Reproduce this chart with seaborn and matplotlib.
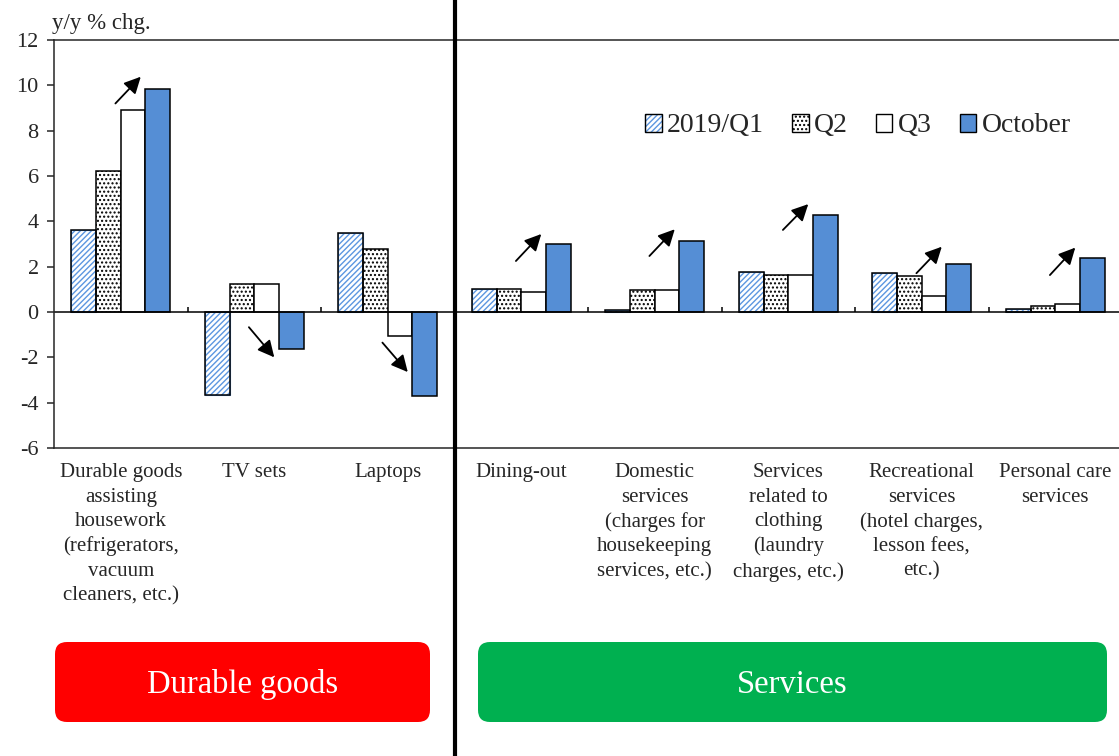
import numpy as np
import pandas as pd
import matplotlib.pyplot as plt
import seaborn as sns
from matplotlib.patches import Rectangle, FancyBboxPatch, Patch
from matplotlib.lines import Line2D
from matplotlib.transforms import blended_transform_factory

# Data (y/y % chg.)
categories = [
    "Durable goods\nassisting\nhousework\n(refrigerators,\nvacuum\ncleaners, etc.)",
    "TV sets",
    "Laptops",
    "Dining-out",
    "Domestic\nservices\n(charges for\nhousekeeping\nservices, etc.)",
    "Services\nrelated to\nclothing\n(laundry\ncharges, etc.)",
    "Recreational\nservices\n(hotel charges,\nlesson fees,\netc.)",
    "Personal care\nservices",
]
periods = ["2019/Q1", "Q2", "Q3", "October"]
q1 = [3.60, -3.65, 3.47, 1.03, 0.07, 1.78, 1.71, 0.15]
q2 = [6.24, 1.24, 2.80, 1.03, 0.96, 1.65, 1.58, 0.28]
q3 = [8.89, 1.24, -1.08, 0.90, 0.96, 1.65, 0.71, 0.35]
october = [9.84, -1.62, -3.72, 2.98, 3.14, 4.28, 2.11, 2.39]

# arrows: start / end level for each category
arrow_from = [9.2, -0.67, -1.35, 2.25, 2.47, 3.62, 1.71, 1.63]
arrow_to = [10.38, -2.0, -2.65, 3.44, 3.65, 4.76, 2.88, 2.84]

df = pd.DataFrame({
    "category": np.tile(categories, len(periods)),
    "period": np.repeat(periods, len(categories)),
    "value": np.concatenate([q1, q2, q3, october]),
})

sns.set_style("ticks")
plt.rcParams["font.family"] = ["Liberation Serif", "DejaVu Serif"]
plt.rcParams["hatch.linewidth"] = 1.0
plt.rcParams["axes.unicode_minus"] = False

blue = "#558ED5"
hatch_blue = "#5C96E0"
palette = {"2019/Q1": "white", "Q2": "white", "Q3": "white", "October": blue}

fig = plt.figure(figsize=(11.19, 7.56), dpi=100)
ax = fig.add_axes([54 / 1119, 1 - 448 / 756, 1068 / 1119, 408 / 756])

sns.barplot(data=df, x="category", y="value", hue="period", order=categories,
            hue_order=periods, palette=palette, saturation=1, width=0.74,
            edgecolor="black", linewidth=1.1, legend=False, ax=ax)

# Q1: blue diagonal hatch with black outline
for p in ax.containers[0].patches:
    p.set_hatch("//////")
    p.set_edgecolor(hatch_blue)
    p.set_linewidth(0.8)
    ax.add_patch(Rectangle(p.get_xy(), p.get_width(), p.get_height(),
                           fill=False, edgecolor="black", linewidth=1.1))
# Q2: dotted
for p in ax.containers[1].patches:
    p.set_hatch("....")

ax.set_xlim(-0.5, len(categories) - 0.5)
ax.set_ylim(-6, 12)
ax.set_yticks(np.arange(-6, 13, 2))
ax.set_xlabel("")
ax.set_ylabel("")
ax.tick_params(axis="y", labelsize=16, length=5, width=1.1, pad=6)
ax.tick_params(axis="x", labelsize=15, length=0, pad=11)
for lab in ax.get_xticklabels():
    lab.set_linespacing(1.38)
for s in ax.spines.values():
    s.set_linewidth(1.1)

# zero line with small separators
ax.axhline(0, color="black", lw=1.1, zorder=1)
xs = np.arange(len(categories))
ax.vlines(xs[:-1] + 0.5, 0, 0.2, color="black", lw=1.1)

# arrows
for i, (y0, y1) in enumerate(zip(arrow_from, arrow_to)):
    ax.annotate("", xy=(xs[i] + 0.15, y1), xytext=(xs[i] - 0.04, y0),
                arrowprops=dict(arrowstyle="-|>", color="black", lw=1.3,
                                mutation_scale=25, shrinkA=0, shrinkB=0))

# legend
handles = [
    (Patch(facecolor="white", edgecolor=hatch_blue, hatch="//////", lw=0.8),
     Patch(facecolor="none", edgecolor="black", lw=1.0)),
    Patch(facecolor="white", edgecolor="black", hatch="....", lw=1.0),
    Patch(facecolor="white", edgecolor="black", lw=1.0),
    Patch(facecolor=blue, edgecolor="black", lw=1.0),
]
fig.legend(handles, periods, loc="center", bbox_to_anchor=(858 / 1119, 1 - 126 / 756),
           ncol=4, frameon=False, fontsize=20, handlelength=0.6, handleheight=0.6,
           handletextpad=0.2, columnspacing=1.0, borderaxespad=0)

fig.text(52 / 1119, 1 - 23 / 756, "y/y % chg.", fontsize=16.5, va="center", ha="left")

# thick separator between durable goods and services
sep = Line2D([2.5, 2.5], [0, 1], color="black", lw=3,
             transform=blended_transform_factory(ax.transData, fig.transFigure))
fig.add_artist(sep)

# group boxes at the bottom
inch = fig.dpi_scale_trans
for x0, x1, col, label in [(0.55, 4.30, "#FF0000", "Durable goods"),
                           (4.78, 11.07, "#00B050", "Services")]:
    box = FancyBboxPatch((x0, 0.34), x1 - x0, 0.80, transform=inch,
                         boxstyle="round,pad=0,rounding_size=0.12",
                         facecolor=col, edgecolor="none")
    fig.add_artist(box)
    fig.text((x0 + x1) / 2, 0.71, label, transform=inch, color="white",
             fontsize=23.5, ha="center", va="center")

plt.savefig("out.png", dpi=100)
